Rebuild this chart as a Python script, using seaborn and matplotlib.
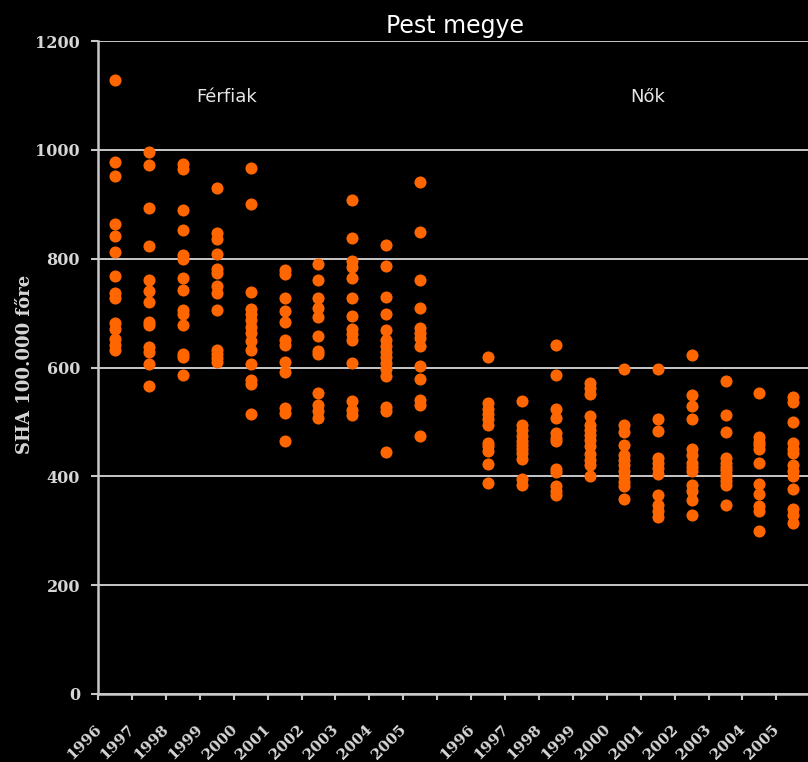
import matplotlib
matplotlib.use("Agg")
import matplotlib.pyplot as plt
from matplotlib.transforms import ScaledTranslation
import numpy as np
import pandas as pd
import seaborn as sns

# ---------------- data ----------------
years = ["1996", "1997", "1998", "1999", "2000", "2001", "2002", "2003", "2004", "2005"]
groups = ["Férfiak", "Nők"]

ferfiak_values = [
    [1128, 977, 952, 863, 841, 812, 768, 736, 727, 681, 670, 652, 641, 632],          # 1996
    [996, 973, 893, 823, 760, 740, 721, 684, 678, 638, 629, 606, 566],                # 1997
    [974, 965, 889, 852, 806, 799, 764, 742, 706, 698, 679, 624, 619, 587],           # 1998
    [930, 847, 836, 809, 781, 773, 749, 736, 705, 632, 624, 617, 610],                # 1999
    [967, 900, 738, 707, 698, 687, 675, 663, 648, 632, 606, 577, 569, 514],           # 2000
    [779, 771, 727, 703, 683, 651, 642, 610, 592, 525, 517, 465],                     # 2001
    [790, 760, 727, 709, 693, 657, 630, 624, 554, 532, 520, 508],                     # 2002
    [908, 838, 795, 784, 765, 727, 694, 670, 661, 651, 609, 539, 521, 513],           # 2003
    [826, 786, 730, 698, 668, 651, 640, 628, 619, 609, 598, 584, 528, 520, 444],      # 2004
    [940, 849, 760, 709, 672, 663, 654, 640, 602, 579, 541, 531, 475],                # 2005
]

nok_values = [
    [620, 534, 524, 514, 505, 495, 462, 455, 446, 423, 388],                          # 1996
    [539, 494, 485, 475, 465, 458, 450, 442, 431, 395, 384],                          # 1997
    [642, 587, 524, 508, 479, 470, 465, 413, 408, 383, 373, 366],                     # 1998
    [572, 563, 551, 510, 495, 486, 476, 467, 455, 441, 430, 420, 400],                # 1999
    [598, 495, 482, 458, 440, 430, 420, 410, 400, 390, 383, 359],                     # 2000
    [598, 506, 483, 433, 424, 415, 405, 366, 347, 336, 326],                          # 2001
    [623, 550, 529, 505, 451, 439, 425, 418, 410, 384, 373, 356, 329],                # 2002
    [576, 513, 481, 433, 425, 418, 411, 405, 398, 391, 384, 347],                     # 2003
    [554, 472, 464, 458, 450, 425, 385, 368, 345, 336, 300],                          # 2004
    [546, 537, 499, 462, 451, 442, 421, 409, 400, 377, 340, 329, 315],                # 2005
]

title = "Pest megye"
y_label = "SHA 100.000 főre"
y_ticks = [0, 200, 400, 600, 800, 1000, 1200]

# ---------------- table ----------------
rows = []
for grp, vals in zip(groups, [ferfiak_values, nok_values]):
    for yr, lst in zip(years, vals):
        for v in lst:
            rows.append({"cat": f"{grp} {yr}", "value": v})
df = pd.DataFrame(rows)
spacer = " "
order = [f"{groups[0]} {y}" for y in years] + [spacer] + [f"{groups[1]} {y}" for y in years]
tick_text = years + [""] + years

# ---------------- style ----------------
sns.set_theme(style="dark", rc={
    "figure.facecolor": "black",
    "axes.facecolor": "black",
    "savefig.facecolor": "black",
})
plt.rcParams["font.family"] = ["DejaVu Sans"]

W, H = 808, 762
fig = plt.figure(figsize=(W / 100, H / 100), dpi=100, facecolor="black")
ax = fig.add_axes([98 / W, 68 / H, 714 / W, 653 / H])
ax.set_facecolor("black")

sns.stripplot(data=df, x="cat", y="value", order=order, jitter=False,
              color="#FF6600", size=8.7, linewidth=0, ax=ax, zorder=3)

light = "#c8c8c8"
txt = "#d6d6d6"

ax.set_xlim(-0.45, len(order) - 0.45)
ax.set_ylim(0, 1200)
ax.set_yticks(y_ticks)
ax.set_yticklabels([str(t) for t in y_ticks], fontfamily="DejaVu Serif",
                   fontweight="bold", fontsize=11.5, color=txt)
ax.grid(axis="y", color=light, linewidth=1.4, zorder=1)
ax.grid(axis="x", visible=False)
ax.set_axisbelow(True)

for s in ["top", "right"]:
    ax.spines[s].set_visible(False)
for s in ["left", "bottom"]:
    ax.spines[s].set_visible(True)
    ax.spines[s].set_color(light)
    ax.spines[s].set_linewidth(1.8)
    ax.spines[s].set_zorder(2)

ax.tick_params(axis="y", which="major", direction="out", length=5, width=1.5,
               color=light, pad=8, left=True)

# x: labels at category centres, small ticks at category boundaries
ax.set_xticks(range(len(order)))
ax.set_xticklabels(tick_text, rotation=45, ha="right", va="center",
                   rotation_mode="anchor", fontfamily="DejaVu Serif",
                   fontweight="bold", fontsize=11, color=txt)
ax.tick_params(axis="x", which="major", length=0, pad=0, bottom=True)
ax.set_xticks(np.arange(-0.5, len(order), 1.0), minor=True)
ax.tick_params(axis="x", which="minor", direction="out", length=4.5, width=1.5,
               color=light, bottom=True)
offset = ScaledTranslation(-16 / 100, -33 / 100, fig.dpi_scale_trans)
for lab in ax.get_xticklabels():
    lab.set_transform(lab.get_transform() + offset)

ax.set_xlabel("")
ax.set_ylabel(y_label, fontfamily="DejaVu Serif", fontweight="bold",
              fontsize=13, color=txt, va="center")
ax.yaxis.set_label_coords(-73 / 714, 0.505)

ax.set_title(title, color="white", fontsize=17, pad=6)

ax.text(3.3, 1097, groups[0], color="#e6e6e6", fontsize=13, ha="center", va="center")
ax.text(15.7, 1097, groups[1], color="#e6e6e6", fontsize=13, ha="center", va="center")

fig.savefig("out.png", dpi=100, facecolor="black")
